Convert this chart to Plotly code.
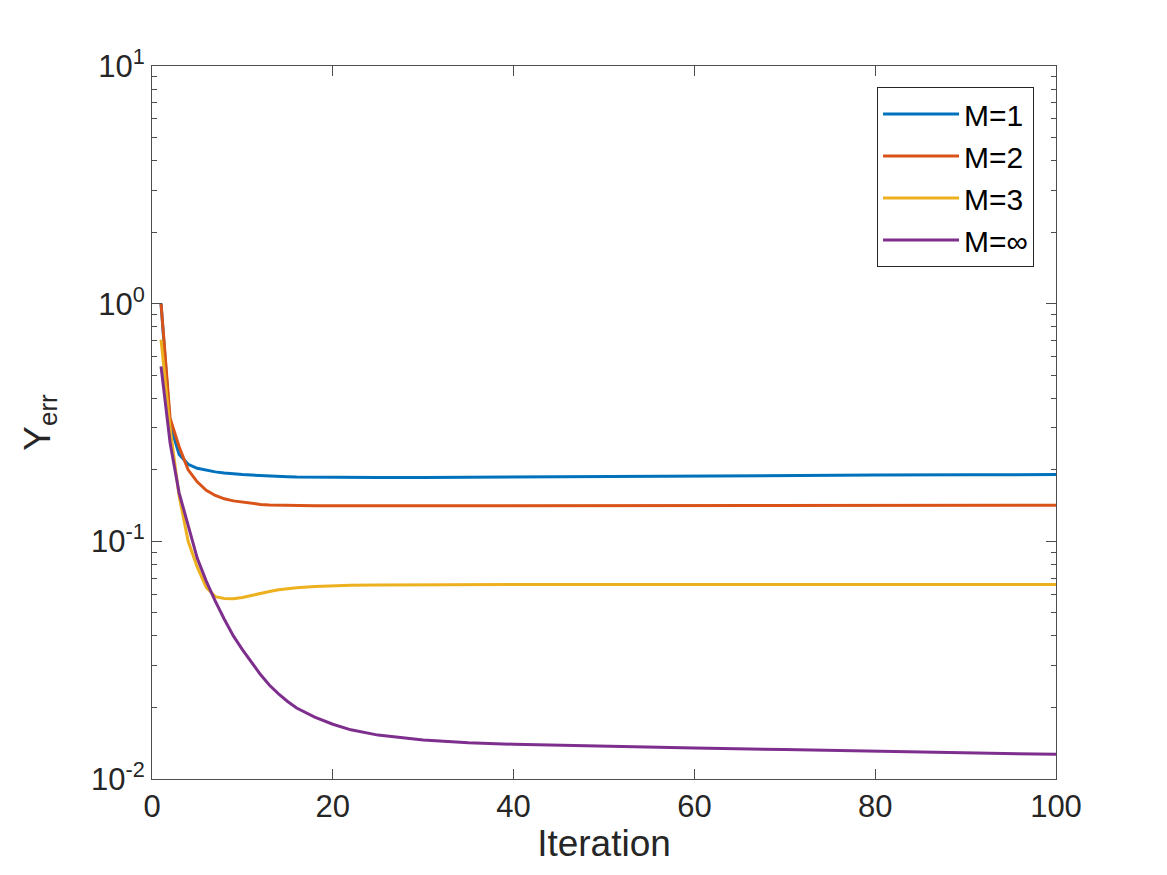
import plotly.graph_objects as go

iterations = [1, 2, 3, 4, 5, 6, 7, 8, 9, 10, 11, 12, 13, 14, 15, 16, 18, 20, 22, 25, 30, 35, 40, 50, 60, 70, 80, 90, 100]

m1 = [1.0, 0.31, 0.232, 0.211, 0.203, 0.199, 0.196, 0.194, 0.192, 0.191, 0.190, 0.189, 0.188, 0.1875, 0.187, 0.1865, 0.186, 0.1858, 0.1856, 0.1855, 0.1857, 0.1862, 0.187, 0.188, 0.189, 0.1895, 0.190, 0.1905, 0.191]
m2 = [1.0, 0.33, 0.25, 0.20, 0.178, 0.164, 0.156, 0.151, 0.148, 0.146, 0.1445, 0.143, 0.1422, 0.1418, 0.1415, 0.1412, 0.141, 0.141, 0.141, 0.141, 0.141, 0.1412, 0.1413, 0.1415, 0.1416, 0.1417, 0.1418, 0.1419, 0.142]
m3 = [0.706, 0.30, 0.155, 0.10, 0.078, 0.064, 0.0585, 0.0575, 0.0574, 0.058, 0.0592, 0.0605, 0.0615, 0.0625, 0.0632, 0.0638, 0.0646, 0.065, 0.0653, 0.0655, 0.0657, 0.0658, 0.0658, 0.0658, 0.0658, 0.0658, 0.0658, 0.0658, 0.0658]
minf = [0.545, 0.26, 0.16, 0.115, 0.085, 0.068, 0.056, 0.047, 0.040, 0.035, 0.031, 0.0275, 0.0248, 0.0228, 0.0212, 0.0199, 0.0182, 0.0170, 0.0161, 0.0153, 0.0146, 0.0142, 0.0140, 0.0137, 0.0135, 0.0133, 0.0131, 0.0129, 0.0127]

names = ["M=1", "M=2", "M=3", "M=\u221e"]
colors = ["#0072BD", "#D95319", "#EDB120", "#7E2F8E"]

x_ticks = [0, 20, 40, 60, 80, 100]
y_ticks = [0.01, 0.1, 1, 10]
y_ticktext = ["10<sup>-2</sup>", "10<sup>-1</sup>", "10<sup>0</sup>", "10<sup>1</sup>"]

fig = go.Figure()
for name, col, ys in zip(names, colors, [m1, m2, m3, minf]):
    fig.add_trace(go.Scatter(x=iterations, y=ys, mode="lines", name=name,
                             line=dict(color=col, width=3)))

axis_col = "#4d4d4d"
fig.update_layout(
    width=1167, height=875,
    margin=dict(l=152, r=111, t=66, b=96),
    paper_bgcolor="white", plot_bgcolor="white",
    font=dict(family="Liberation Sans, Arial, sans-serif", color="#262626", size=31),
    showlegend=True,
    legend=dict(x=0.9757, y=0.9705, xanchor="right", yanchor="top",
                bgcolor="white", bordercolor="#262626", borderwidth=1,
                font=dict(size=30, color="#000000"), itemwidth=76,
                tracegroupgap=0),
)
fig.update_xaxes(
    range=[0, 100], tickvals=x_ticks, ticks="inside", ticklen=10,
    tickcolor=axis_col, showline=True, linecolor=axis_col, linewidth=1,
    mirror="ticks", showgrid=False, zeroline=False,
    title=dict(text="Iteration", font=dict(size=37), standoff=6),
    tickfont=dict(size=31),
)
fig.update_yaxes(
    type="log", range=[-2, 1], tickvals=y_ticks, ticktext=y_ticktext,
    ticks="inside", ticklen=10, tickcolor=axis_col,
    showline=True, linecolor=axis_col, linewidth=1, mirror="ticks",
    showgrid=False, zeroline=False,
    minor=dict(ticks="inside", ticklen=5, tickcolor=axis_col, dtick="D1", showgrid=False),
    title=dict(text="Y<sub>err</sub>", font=dict(size=37), standoff=29),
    tickfont=dict(size=31),
)

fig.write_html("out.html")
